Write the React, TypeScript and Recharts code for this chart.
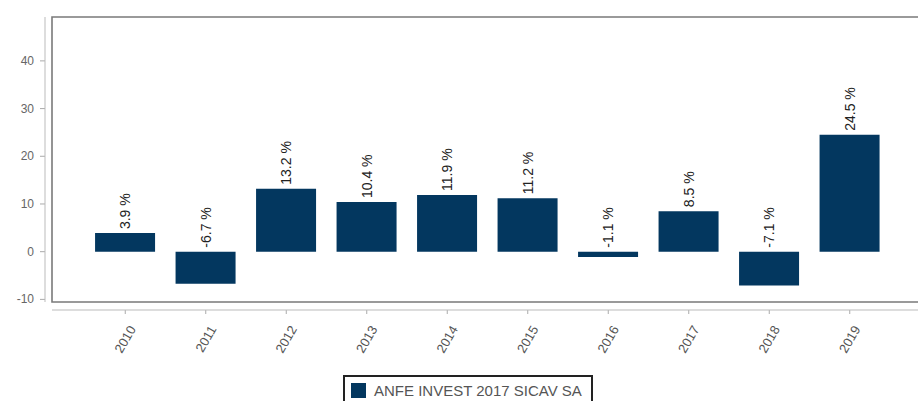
import React from "react";
import { BarChart, Bar, XAxis, YAxis, LabelList } from "recharts";

const years = ["2010", "2011", "2012", "2013", "2014", "2015", "2016", "2017", "2018", "2019"];
const returns = [3.9, -6.7, 13.2, 10.4, 11.9, 11.2, -1.1, 8.5, -7.1, 24.5];
const yTicks = [-10, 0, 10, 20, 30, 40];
const seriesName = "ANFE INVEST 2017 SICAV SA";

const data = years.map((year, i) => ({ year, value: returns[i] }));

const W = 918;
const H = 401;
// plot box
const PL = 52;
const PT = 17;
const PB = 302;
const BAR_COLOR = "#03375f";
const FONT = "'Liberation Sans', Arial, sans-serif";

const XTick = ({ x, y, payload }: any) => (
  <g transform={`translate(${x},${y})`}>
    <line x1={0} x2={0} y1={8} y2={12} stroke="#aaa" />
    <text
      transform="translate(11,27) rotate(-60)"
      textAnchor="end"
      fill="#555"
      fontSize={13}
      fontFamily={FONT}
    >
      {payload.value}
    </text>
  </g>
);

const YTick = ({ x, y, payload }: any) => (
  <g>
    <line x1={x - 12} x2={x - 7} y1={y} y2={y} stroke="#aaa" />
    <text
      x={x - 18}
      y={y}
      textAnchor="end"
      dominantBaseline="central"
      fill="#666"
      fontSize={12}
      fontFamily={FONT}
    >
      {payload.value}
    </text>
  </g>
);

const ValueLabel = ({ x, y, width, height, value }: any) => {
  const cx = x + width / 2;
  const top = Math.min(y, y + height);
  return (
    <text
      transform={`translate(${cx},${top - 4}) rotate(-90)`}
      textAnchor="start"
      dominantBaseline="central"
      fill="#222"
      fontSize={14}
      fontFamily={FONT}
    >
      {`${value.toFixed(1)} %`}
    </text>
  );
};

export default function App() {
  return (
    <div style={{ position: "absolute", left: 0, top: 0, width: W, height: H, background: "#fff", fontFamily: FONT }}>
      <BarChart
        width={W}
        height={H}
        data={data}
        margin={{ top: PT, right: 0, left: 0, bottom: H - PB - 60 }}
        barCategoryGap="12.5%"
      >
        <XAxis
          dataKey="year"
          axisLine={false}
          tickLine={false}
          tickSize={0}
          tickMargin={0}
          height={60}
          interval={0}
          padding={{ left: 33, right: 28 }}
          tick={<XTick />}
        />
        <YAxis
          width={PL}
          domain={[-10.55, 49.2]}
          ticks={yTicks}
          axisLine={false}
          tickLine={false}
          tickSize={0}
          tickMargin={0}
          tick={<YTick />}
        />
        <Bar dataKey="value" name={seriesName} fill={BAR_COLOR} isAnimationActive={false}>
          <LabelList dataKey="value" content={<ValueLabel />} />
        </Bar>
      </BarChart>
      <svg
        width={W}
        height={H}
        style={{ position: "absolute", left: 0, top: 0, pointerEvents: "none" }}
      >
        <path
          d={`M${W} ${PT} H${PL} V${PB} H${W}`}
          fill="none"
          stroke="#7a7a7a"
          strokeWidth={1.6}
        />
        <line x1={45} x2={45} y1={PT} y2={PB} stroke="#bbb" />
        <line x1={PL} x2={W} y1={PB + 8} y2={PB + 8} stroke="#bbb" />
      </svg>
      <div
        style={{
          position: "absolute",
          left: 343,
          top: 375,
          width: 250,
          height: 30,
          border: "2px solid #222",
          boxSizing: "border-box",
          display: "flex",
          alignItems: "flex-start",
          paddingLeft: 6,
          paddingTop: 6,
        }}
      >
        <span style={{ width: 15, height: 15, background: BAR_COLOR, display: "inline-block", marginRight: 8 }} />
        <span style={{ fontSize: 15, color: "#555", lineHeight: "15px", whiteSpace: "nowrap" }}>{seriesName}</span>
      </div>
    </div>
  );
}
